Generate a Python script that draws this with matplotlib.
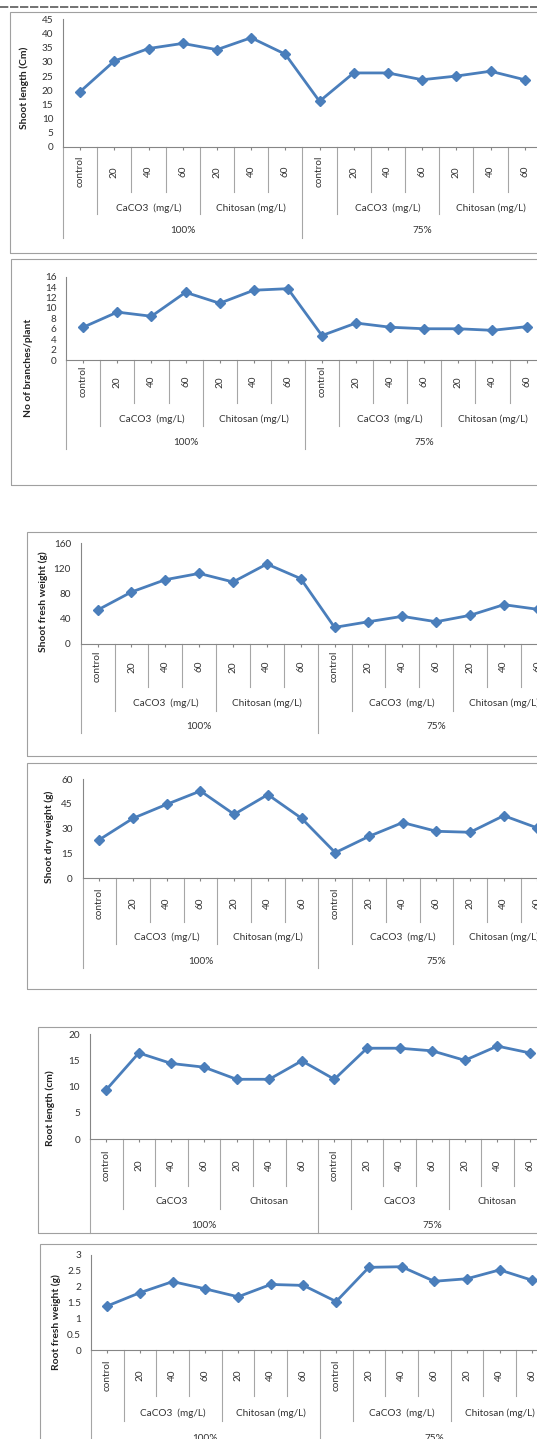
# Growth parameters under two irrigation levels (100% / 75%)
# with CaCO3 and Chitosan treatments - six stacked line charts

import matplotlib.pyplot as plt
import numpy as np
from matplotlib.patches import Rectangle
from matplotlib.transforms import blended_transform_factory

plt.rcParams['font.family'] = ['Lato', 'DejaVu Sans']

# Categories of the multi-level x axis
categories = ['control', '20', '40', '60', '20', '40', '60',
              'control', '20', '40', '60', '20', '40', '60']
irrigation = ['100%', '75%']
groups_mgl = ['CaCO3  (mg/L)', 'Chitosan (mg/L)']
groups_plain = ['CaCO3', 'Chitosan']

# Measured values
shoot_length = [19.5, 30.3, 34.7, 36.5, 34.3, 38.5, 32.7, 16.1, 26.1, 26.1, 23.7, 25.0, 26.7, 23.7]
branches = [6.3, 9.2, 8.4, 13.0, 10.9, 13.4, 13.7, 4.7, 7.1, 6.3, 6.0, 6.0, 5.7, 6.4]
shoot_fresh = [53.7, 82.4, 102, 112, 98.4, 127, 103.7, 26, 35, 43.6, 35, 45.2, 62.2, 54.8]
shoot_dry = [23.3, 36.3, 44.8, 52.9, 38.7, 50.7, 36.3, 15.4, 25.3, 33.7, 28.4, 27.8, 37.9, 30.4]
root_length = [9.4, 16.4, 14.4, 13.7, 11.4, 11.4, 14.9, 11.4, 17.3, 17.3, 16.8, 15.0, 17.7, 16.4]
root_fresh = [1.39, 1.81, 2.16, 1.93, 1.68, 2.07, 2.04, 1.53, 2.61, 2.63, 2.17, 2.25, 2.53, 2.2]

W, H = 537, 1439
fig = plt.figure(figsize=(W / 100, H / 100), dpi=100)

line_color = '#4A7EBB'
axis_color = '#868686'
sep_color = '#a6a6a6'
text_color = '#333333'
fs = 7.2


def fx(x):
    return x / W


def fy(y):
    return 1 - y / H


# how far each separator line goes down (1 = dose, 2 = product, 3 = irrigation)
depth = [3, 2, 1, 1, 2, 1, 1, 3, 2, 1, 1, 2, 1, 1, 3]


def draw_panel(values, ymax, ystep, ylabel, groups, box, left, step, y0, ytop,
               levels, text_y, ylabel_xy):
    # chart frame (runs off the right side of the page)
    bx, btop, bbot = box
    fig.patches.append(Rectangle((fx(bx), fy(bbot)), (W + 20 - bx) / W, (bbot - btop) / H,
                                 transform=fig.transFigure, fill=False,
                                 ec='#a0a0a0', lw=0.8))

    n = len(categories)
    ax = fig.add_axes([fx(left), fy(y0), step * n / W, (y0 - ytop) / H])
    x = np.arange(n)
    ax.plot(x, values, color=line_color, lw=2.0, marker='D', ms=4.6,
            clip_on=False, zorder=3)
    ax.set_xlim(-0.5, n - 0.5)
    ax.set_ylim(0, ymax)
    ax.set_yticks(np.arange(0, ymax + ystep / 2, ystep))
    ax.yaxis.set_major_formatter(plt.FormatStrFormatter('%g'))
    ax.set_xticks(x)
    ax.set_xticklabels([])
    ax.tick_params(axis='y', length=0, pad=7, labelsize=fs, labelcolor=text_color)
    ax.tick_params(axis='x', length=2.5, color=axis_color, width=0.8)
    for s in ['top', 'right']:
        ax.spines[s].set_visible(False)
    for s in ['left', 'bottom']:
        ax.spines[s].set_color(axis_color)
        ax.spines[s].set_linewidth(0.8)
    ax.patch.set_alpha(0)

    trans = blended_transform_factory(ax.transData, fig.transFigure)

    # separators of the category levels
    for k, d in enumerate(depth):
        ax.plot([k - 0.5, k - 0.5], [fy(y0), fy(levels[d - 1])], transform=trans,
                color=sep_color, lw=0.8, clip_on=False)

    # level 1: doses
    for k, c in enumerate(categories):
        ax.text(k, fy(text_y[0]), c, transform=trans, rotation=90, ha='center',
                va='center', fontsize=fs, color=text_color, clip_on=False)
    # level 2: products
    for i in range(2):
        for j, g in enumerate(groups):
            ax.text(2 + 3 * j + 7 * i, fy(text_y[1]), g, transform=trans, ha='center',
                    va='center', fontsize=fs, color=text_color, clip_on=False)
    # level 3: irrigation
    for i, lab in enumerate(irrigation):
        ax.text(3 + 7 * i, fy(text_y[2]), lab, transform=trans, ha='center',
                va='center', fontsize=fs, color=text_color, clip_on=False)

    fig.text(fx(ylabel_xy[0]), fy(ylabel_xy[1]), ylabel, rotation=90, ha='center',
             va='center', fontsize=7.4, fontweight='bold', color='#222222')
    return ax


# dashed rule at the top of the page
fig.add_artist(plt.Line2D([0, 1], [fy(6.7), fy(6.7)], transform=fig.transFigure,
                          color='#5a5a5a', lw=1.2, ls=(0, (5, 1))))

draw_panel(shoot_length, 45, 5, 'Shoot length (Cm)', groups_mgl,
           (10.3, 12, 252.7), 63, 34.2, 147, 19.3,
           (192.3, 214.3, 238.3), (171.7, 208.3, 230.7), (24.7, 87.5))

draw_panel(branches, 16, 2, 'No of branches/plant', groups_mgl,
           (11.3, 259.3, 485), 66.2, 34.1, 360, 276.7,
           (403.3, 426, 449.3), (381.7, 419, 442.7), (28.1, 368.3))

draw_panel(shoot_fresh, 160, 40, 'Shoot fresh weight (g)', groups_mgl,
           (27.4, 532, 756), 80.7, 33.85, 643.7, 543.3,
           (687.3, 710.7, 733.3), (666.7, 703.3, 726.7), (42.8, 601.3))

draw_panel(shoot_dry, 60, 15, 'Shoot dry weight (g)', groups_mgl,
           (27.4, 762.7, 989), 82.5, 33.7, 878, 779.3,
           (921.7, 944.3, 968.3), (903.3, 937.7, 961), (49.7, 836.7))

draw_panel(root_length, 20, 5, 'Root length (cm)', groups_plain,
           (37.7, 1027, 1233.3), 89.9, 32.6, 1139.3, 1034,
           (1185.7, 1209.3, 1233.3), (1165, 1201.7, 1226), (50.7, 1108))

draw_panel(root_fresh, 3, 0.5, 'Root fresh weight (g)', groups_mgl,
           (40.1, 1244, 1460), 90.9, 32.7, 1350, 1255,
           (1396, 1420.7, 1460), (1375, 1413.3, 1438.3), (56.5, 1322.5))

plt.savefig('out.png', dpi=100)
